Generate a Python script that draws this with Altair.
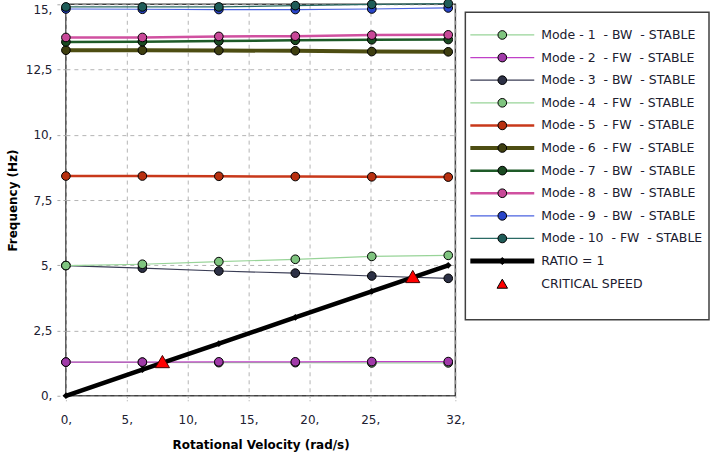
import altair as alt
import pandas as pd

# ---------------- data ----------------
speed = [0, 6.2832, 12.5664, 18.8496, 25.1327, 31.4159]

mode1 = [1.29, 1.28, 1.27, 1.27, 1.26, 1.26]
mode2 = [1.29, 1.29, 1.30, 1.30, 1.31, 1.31]
mode3 = [4.99, 4.89, 4.78, 4.70, 4.59, 4.50]
mode4 = [4.99, 5.04, 5.14, 5.23, 5.34, 5.38]
mode5 = [8.42, 8.42, 8.41, 8.40, 8.39, 8.38]
mode6 = [13.24, 13.24, 13.23, 13.22, 13.19, 13.18]
mode7 = [13.56, 13.57, 13.59, 13.62, 13.64, 13.65]
mode8 = [13.73, 13.73, 13.77, 13.78, 13.82, 13.83]
mode9 = [14.82, 14.81, 14.80, 14.80, 14.82, 14.86]
mode10 = [14.90, 14.90, 14.90, 14.95, 15.00, 15.03]
ratio = [0, 1, 2, 3, 4, 5]

crit_x = [7.93, 28.5]
crit_y = [1.31, 4.57]

mode_labels = [
    "Mode - 1  - BW  - STABLE",
    "Mode - 2  - FW  - STABLE",
    "Mode - 3  - BW  - STABLE",
    "Mode - 4  - FW  - STABLE",
    "Mode - 5  - FW  - STABLE",
    "Mode - 6  - FW  - STABLE",
    "Mode - 7  - BW  - STABLE",
    "Mode - 8  - BW  - STABLE",
    "Mode - 9  - BW  - STABLE",
    "Mode - 10  - FW  - STABLE",
]
ratio_label = "RATIO = 1"
crit_label = "CRITICAL SPEED"

x_ticks = [0, 5, 10, 15, 20, 25, 32]
y_ticks = [0, 2.5, 5, 7.5, 10, 12.5, 15]

# ---------------- styles ----------------
modes = [mode1, mode2, mode3, mode4, mode5, mode6, mode7, mode8, mode9, mode10]
line_colors = ["#98d498", "#c040c8", "#3a3d55", "#98d498", "#c8381a",
               "#4d4d12", "#1e5a28", "#d050a0", "#4a62e0", "#2a6a64"]
fill_colors = ["#7fc47f", "#a03aa8", "#2c3045", "#7fc47f", "#b83010",
               "#3e3e10", "#1a4a22", "#c84898", "#2844c8", "#1f5c58"]
line_widths = [1.2, 1.2, 1.2, 1.2, 2.5, 4, 2.5, 2.5, 1.2, 1.2]

FONT = "DejaVu Sans"
TEXT_COLOR = "#202030"
label_expr = "replace(format(datum.value, '.1~f'), '.', ',') + (datum.value % 1 == 0 ? ',' : '')"

xs = alt.Scale(domain=[0, 32], nice=False, zero=False)
ys = alt.Scale(domain=[0, 15], nice=False)

x_axis = alt.Axis(
    values=x_ticks, labelExpr=label_expr, title="Rotational Velocity (rad/s)",
    grid=True, gridDash=[4, 4], gridColor="#b4b4b4", domain=False,
    tickColor="#a8a8a8", tickDash=[2, 2], tickSize=5, labelPadding=14,
    labelOverlap=False, labelFlush=False,
    labelFont=FONT, labelFontSize=12, labelColor=TEXT_COLOR,
    titleFont=FONT, titleFontSize=12, titleFontWeight="bold", titleColor="#000000",
    titlePadding=14,
)
y_axis = alt.Axis(
    values=y_ticks, labelExpr=label_expr, title="Frequency (Hz)",
    grid=True, gridDash=[4, 4], gridColor="#b4b4b4", domain=False,
    tickColor="#a8a8a8", tickDash=[3, 3], tickSize=10, labelPadding=4,
    labelOverlap=False, labelFlush=False,
    labelBaseline={"condition": {"test": "datum.value === 15", "value": "top"}, "value": "middle"},
    labelFont=FONT, labelFontSize=12, labelColor=TEXT_COLOR,
    titleFont=FONT, titleFontSize=12, titleFontWeight="bold", titleColor="#000000",
    titlePadding=6,
)

layers = []
for i, vals in enumerate(modes):
    df = pd.DataFrame({"x": speed, "y": vals})
    base = alt.Chart(df).encode(
        x=alt.X("x:Q", scale=xs, axis=x_axis),
        y=alt.Y("y:Q", scale=ys, axis=y_axis),
    )
    layers.append(base.mark_line(color=line_colors[i], strokeWidth=line_widths[i]))
    layers.append(base.mark_point(shape="circle", filled=True, fill=fill_colors[i],
                                  stroke="#000000", strokeWidth=1, size=75, opacity=1))

rdf = pd.DataFrame({"x": speed, "y": ratio})
rbase = alt.Chart(rdf).encode(
    x=alt.X("x:Q", scale=xs, axis=x_axis),
    y=alt.Y("y:Q", scale=ys, axis=y_axis),
)
layers.append(rbase.mark_line(color="#000000", strokeWidth=4.5))
layers.append(rbase.mark_point(shape="diamond", filled=True, color="#000000", size=45, opacity=1))

cdf = pd.DataFrame({"x": crit_x, "y": crit_y})
layers.append(
    alt.Chart(cdf).mark_point(shape="triangle-up", filled=True, fill="#ff0000",
                              stroke="#400000", strokeWidth=1, size=200, opacity=1)
    .encode(x=alt.X("x:Q", scale=xs, axis=x_axis), y=alt.Y("y:Q", scale=ys, axis=y_axis))
)

main = alt.layer(*layers).properties(width=390, height=392)

# ---------------- legend ----------------
leg_labels = [l.replace(" ", "\u00a0") for l in mode_labels] + [ratio_label.replace(" ", "\u00a0"), crit_label.replace(" ", "\u00a0")]
leg_df = pd.DataFrame({
    "idx": list(range(12)),
    "label": leg_labels,
    "lc": line_colors + ["#000000", "#ffffff"],
    "lw": line_widths + [5, 0],
    "fc": fill_colors + ["#000000", "#ff0000"],
    "shape": ["circle"] * 10 + ["diamond", "triangle-up"],
    "ps": [75] * 10 + [50, 110],
})
ly = alt.Y("idx:Q", scale=alt.Scale(domain=[-1.002, 12.6], reverse=True, nice=False, zero=False), axis=None)
leg_base = alt.Chart(leg_df).encode(y=ly)
leg_lines = leg_base.transform_filter("datum.lw > 0").mark_rule().encode(
    x=alt.value(5), x2=alt.value(69),
    color=alt.Color("lc:N", scale=None),
    strokeWidth=alt.StrokeWidth("lw:Q", scale=None),
)
leg_pts = leg_base.mark_point(filled=True, stroke="#000000", strokeWidth=1, opacity=1).encode(
    x=alt.value(37),
    fill=alt.Fill("fc:N", scale=None),
    shape=alt.Shape("shape:N", scale=None),
    size=alt.Size("ps:Q", scale=None),
)
leg_txt = leg_base.mark_text(align="left", baseline="middle", font=FONT, fontSize=12.5,
                             color=TEXT_COLOR).encode(x=alt.value(76), text="label:N")
legend = alt.layer(leg_lines, leg_pts, leg_txt).properties(width=244, height=308)

spacer = alt.Chart(pd.DataFrame({"a": [0]})).mark_text(text="").properties(
    width=244, height=3, view=alt.ViewBackground(stroke=None)
)

right = alt.vconcat(spacer, legend, spacing=0)

chart = alt.hconcat(main, right, spacing=10, bounds="flush").properties(
    padding={"left": 5, "top": -4, "right": 0, "bottom": 0},
    background="#ffffff",
).configure_view(stroke="#404040", strokeWidth=1.5)

chart.save("out.html", embed_options={"renderer": "svg", "actions": False})
